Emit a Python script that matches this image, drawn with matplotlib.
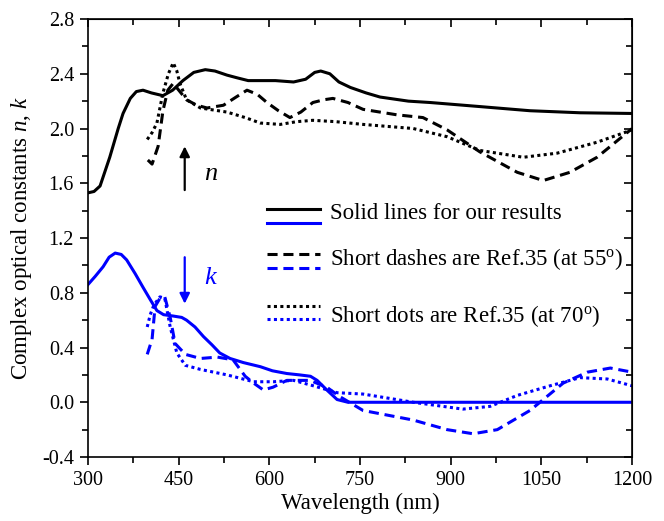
import numpy as np
import matplotlib
matplotlib.use('Agg')
import matplotlib.pyplot as plt
from matplotlib.ticker import MultipleLocator

plt.rcParams['font.family'] = ['Liberation Serif', 'DejaVu Serif']
plt.rcParams['mathtext.fontset'] = 'custom'
plt.rcParams['mathtext.rm'] = 'Liberation Serif'
plt.rcParams['mathtext.it'] = 'Liberation Serif:italic'

# refractive index n (our results, solid black)
wl_n = [300, 310, 320, 336, 350, 358, 370, 380, 391, 405, 424, 440, 457, 475, 494, 510,
        530, 547, 565, 585, 610, 640, 660, 675, 685, 700, 715, 734, 760, 783, 830, 866,
        949, 1031, 1114, 1200]
n_ours = [1.53, 1.54, 1.58, 1.79, 2.00, 2.11, 2.22, 2.27, 2.28, 2.26, 2.24, 2.28, 2.35, 2.41,
          2.43, 2.42, 2.39, 2.37, 2.35, 2.35, 2.35, 2.34, 2.36, 2.41, 2.42, 2.40, 2.34, 2.30,
          2.26, 2.23, 2.20, 2.19, 2.16, 2.13, 2.115, 2.11]

# Ref.35 at 55 deg (dashed)
wl_n55 = [399, 406, 416, 424, 432, 441, 452, 463, 480, 497, 524, 545, 563, 580, 596, 615,
          634, 652, 672, 690, 705, 730, 755, 811, 854, 894, 948, 1010, 1053, 1097, 1142, 1200]
n_55 = [1.77, 1.74, 1.87, 2.13, 2.28, 2.33, 2.27, 2.21, 2.17, 2.15, 2.17, 2.23, 2.28, 2.25,
        2.19, 2.13, 2.08, 2.12, 2.19, 2.21, 2.22, 2.19, 2.14, 2.10, 2.08, 1.99, 1.83, 1.68,
        1.62, 1.68, 1.79, 2.00]

# Ref.35 at 70 deg (dotted)
wl_n70 = [398, 406, 414, 424, 433, 441, 447, 452, 463, 486, 530, 560, 585, 618, 645, 672,
          710, 755, 838, 894, 948, 1020, 1076, 1142, 1200]
n_70 = [1.92, 1.97, 2.04, 2.26, 2.40, 2.48, 2.42, 2.33, 2.21, 2.15, 2.12, 2.08, 2.04, 2.03,
        2.05, 2.06, 2.05, 2.03, 2.00, 1.94, 1.84, 1.79, 1.82, 1.90, 1.99]

# extinction coefficient k (our results, solid blue)
wl_k = [300, 312, 325, 335, 345, 355, 364, 378, 391, 403, 414, 425, 441, 455, 463, 477,
        491, 505, 518, 535, 557, 585, 605, 629, 650, 668, 679, 695, 712, 730, 1200]
k_ours = [0.86, 0.92, 0.99, 1.06, 1.09, 1.08, 1.04, 0.94, 0.84, 0.75, 0.67, 0.64, 0.63, 0.62,
          0.60, 0.55, 0.48, 0.42, 0.36, 0.32, 0.29, 0.26, 0.23, 0.21, 0.20, 0.19, 0.16, 0.09,
          0.02, 0.00, 0.00]

wl_k55 = [398, 406, 411, 419, 427, 436, 444, 461, 486, 514, 540, 560, 574, 590, 606, 629,
          667, 695, 717, 755, 838, 894, 937, 977, 1031, 1086, 1126, 1164, 1200]
k_55 = [0.35, 0.46, 0.70, 0.76, 0.77, 0.62, 0.43, 0.35, 0.32, 0.33, 0.31, 0.19, 0.14, 0.09,
        0.11, 0.16, 0.16, 0.11, 0.04, -0.06, -0.13, -0.20, -0.23, -0.20, -0.06, 0.14, 0.22,
        0.25, 0.22]

wl_k70 = [398, 403, 409, 419, 427, 436, 447, 461, 486, 530, 574, 607, 640, 673, 712, 755,
          838, 920, 965, 1010, 1064, 1114, 1159, 1200]
k_70 = [0.55, 0.64, 0.71, 0.77, 0.76, 0.55, 0.36, 0.27, 0.24, 0.20, 0.15, 0.15, 0.16, 0.12,
        0.07, 0.06, 0.00, -0.05, -0.03, 0.05, 0.12, 0.18, 0.17, 0.12]

legend_labels = ['Solid lines for our results',
                 r'Short dashes are Ref.35 (at 55$^{\rm o}$)',
                 r'Short dots are Ref.35 (at 70$^{\rm o}$)']

blue = '#0000ff'
lw = 2.2
dash = (0, (3.3, 1.9))
dot = (0, (1, 1.1))

fig = plt.figure(figsize=(6.64, 5.21), dpi=100)
ax = fig.add_axes([0.1325, 0.1228, 0.8195, 0.8407])

ax.plot(wl_n, n_ours, color='black', lw=lw)
ax.plot(wl_n55, n_55, color='black', lw=lw, linestyle=dash)
ax.plot(wl_n70, n_70, color='black', lw=lw, linestyle=dot)
ax.plot(wl_k, k_ours, color=blue, lw=lw)
ax.plot(wl_k55, k_55, color=blue, lw=lw, linestyle=dash)
ax.plot(wl_k70, k_70, color=blue, lw=lw, linestyle=dot)

ax.set_xlim(300, 1200)
ax.set_ylim(-0.4, 2.8)
ax.xaxis.set_major_locator(MultipleLocator(150))
ax.xaxis.set_minor_locator(MultipleLocator(75))
ax.yaxis.set_major_locator(MultipleLocator(0.4))
ax.yaxis.set_minor_locator(MultipleLocator(0.2))
ax.yaxis.set_major_formatter(matplotlib.ticker.FormatStrFormatter('%.1f'))
ax.tick_params(which='both', direction='out', labelsize=14.5, width=1.2)
ax.tick_params(which='major', length=6, pad=4)
ax.tick_params(which='minor', length=4)
for s in ax.spines.values():
    s.set_linewidth(1.2)

# mirrored ticks on top/right pointing inwards
top = ax.secondary_xaxis('top')
top.xaxis.set_major_locator(MultipleLocator(150))
top.xaxis.set_minor_locator(MultipleLocator(75))
top.tick_params(which='both', direction='in', labeltop=False, width=1.2)
top.tick_params(which='major', length=6)
top.tick_params(which='minor', length=4)
right = ax.secondary_yaxis('right')
right.yaxis.set_major_locator(MultipleLocator(0.4))
right.yaxis.set_minor_locator(MultipleLocator(0.2))
right.tick_params(which='both', direction='in', labelright=False, width=1.2)
right.tick_params(which='major', length=6)
right.tick_params(which='minor', length=4)

ax.set_xlabel('Wavelength (nm)', fontsize=16.5, labelpad=2)
ax.set_ylabel(r'Complex optical constants $n$, $k$', fontsize=16.5, labelpad=6)

# arrows and n, k labels
ax.annotate('', xy=(460, 1.89), xytext=(460, 1.53),
            arrowprops=dict(arrowstyle='-|>', color='black', lw=1.6, mutation_scale=15))
ax.text(492, 1.67, 'n', fontsize=19, style='italic', va='center')
ax.annotate('', xy=(460, 0.70), xytext=(460, 1.08),
            arrowprops=dict(arrowstyle='-|>', color=blue, lw=1.6, mutation_scale=15))
ax.text(492, 0.91, 'k', fontsize=19, style='italic', color=blue, va='center')

# hand-made legend (black over blue pairs)
styles = ['-', dash, dot]
rows = [(0.566, 0.534, 0.555), (0.463, 0.432, 0.452), (0.345, 0.315, 0.322)]
for st, (yb, yl, yt), lab in zip(styles, rows, legend_labels):
    ax.plot([0.329, 0.426], [yb, yb], transform=ax.transAxes, color='black', lw=lw, linestyle=st)
    ax.plot([0.329, 0.426], [yl, yl], transform=ax.transAxes, color=blue, lw=lw, linestyle=st)
    ax.text(0.445, yt, lab, transform=ax.transAxes, fontsize=16.5, va='center')

fig.savefig('out.png', dpi=100)
